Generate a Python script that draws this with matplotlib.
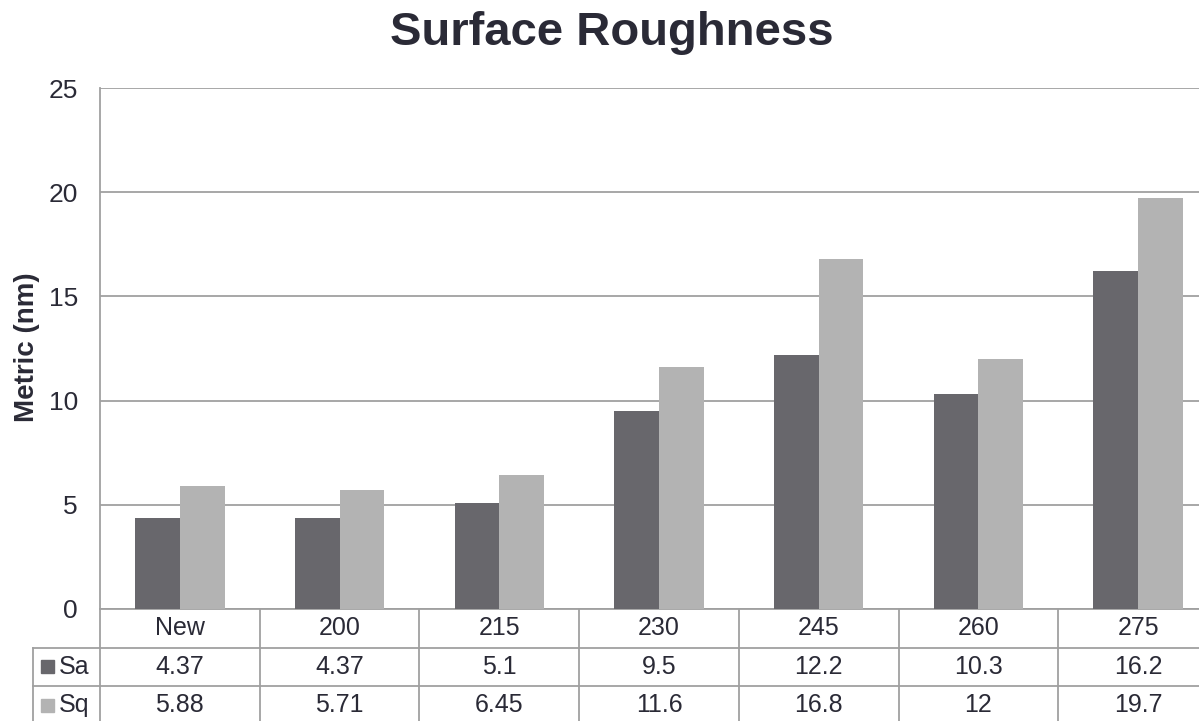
import matplotlib.pyplot as plt
import matplotlib.transforms as mtransforms
from matplotlib.patches import Rectangle
import numpy as np

plt.rcParams['font.family'] = ['Liberation Sans', 'DejaVu Sans']

categories = ["New", "200", "215", "230", "245", "260", "275"]
series_names = ["Sa", "Sq"]
sa_values = [4.37, 4.37, 5.1, 9.5, 12.2, 10.3, 16.2]
sq_values = [5.88, 5.71, 6.45, 11.6, 16.8, 12, 19.7]
sa_labels = ["4.37", "4.37", "5.1", "9.5", "12.2", "10.3", "16.2"]
sq_labels = ["5.88", "5.71", "6.45", "11.6", "16.8", "12", "19.7"]
y_ticks = [0, 5, 10, 15, 20, 25]

TEXT = "#2a2a36"
GRID = "#a0a0a0"
COLORS = ["#68676c", "#b3b3b3"]

W, H = 1199, 721
fig = plt.figure(figsize=(W / 100, H / 100), dpi=100)

# plot area in pixels (runs a little past the right edge)
left_px, right_px, top_px, bottom_px = 100, 1218, 88, 609
ax = fig.add_axes([left_px / W, (H - bottom_px) / H,
                   (right_px - left_px) / W, (bottom_px - top_px) / H])

x = np.arange(len(categories))
bw = 0.28
ax.bar(x - bw / 2, sa_values, bw, color=COLORS[0], zorder=3)
ax.bar(x + bw / 2, sq_values, bw, color=COLORS[1], zorder=3)

ax.set_xlim(-0.5, len(categories) - 0.5)
ax.set_ylim(0, 25)
ax.set_yticks(y_ticks)
ax.set_yticklabels([str(t) for t in y_ticks], fontsize=19, color=TEXT)
ax.tick_params(axis='y', length=0, pad=16)
ax.set_xticks([])
ax.grid(axis='y', color=GRID, linewidth=1.3, zorder=0)
for s in ["top", "right", "bottom"]:
    ax.spines[s].set_visible(False)
ax.spines["left"].set_color(GRID)
ax.spines["left"].set_linewidth(1.3)

fig.text(612 / W, 1 - 45 / H, "Surface Roughness", fontsize=34, fontweight='bold',
         color=TEXT, ha='center', va='baseline')
fig.text(27 / W, 1 - 347 / H, "Metric (nm)", fontsize=20, fontweight='bold',
         color=TEXT, rotation=90, ha='center', va='center')

# data table under the plot
row_h = 38.5 / (bottom_px - top_px)
trans = mtransforms.blended_transform_factory(ax.transData, ax.transAxes)
label_left = (33 - left_px) / (right_px - left_px)
line_kw = dict(color=GRID, linewidth=1.3, clip_on=False)

ax.plot([0, 1], [0, 0], transform=ax.transAxes, **line_kw)
for r in (1, 2):
    ax.plot([label_left, 1], [-r * row_h, -r * row_h], transform=ax.transAxes, **line_kw)
ax.plot([label_left, label_left], [-row_h, -3.2 * row_h], transform=ax.transAxes, **line_kw)
for b in np.arange(len(categories)) - 0.5:
    ax.plot([b, b], [0, -3.2 * row_h], transform=trans, **line_kw)

for i, cat in enumerate(categories):
    ax.text(i, -0.5 * row_h, cat, transform=trans, ha='center', va='center',
            fontsize=18, color=TEXT)
for r, labels in enumerate([sa_labels, sq_labels], start=1):
    for i, lab in enumerate(labels):
        ax.text(i, -(r + 0.5) * row_h, lab, transform=trans, ha='center', va='center',
                fontsize=18, color=TEXT)

# row headers with legend keys
px_x = lambda p: (p - left_px) / (right_px - left_px)
px_h = 1 / (bottom_px - top_px)
for r, (name, col) in enumerate(zip(series_names, COLORS), start=1):
    yc = -(r + 0.5) * row_h
    ax.add_patch(Rectangle((px_x(41), yc - 6.5 * px_h), 13 / (right_px - left_px), 13 * px_h,
                           transform=ax.transAxes, color=col, clip_on=False))
    ax.text(px_x(59), yc, name, transform=ax.transAxes, ha='left', va='center',
            fontsize=18, color=TEXT)

fig.savefig("out.png", dpi=100)
